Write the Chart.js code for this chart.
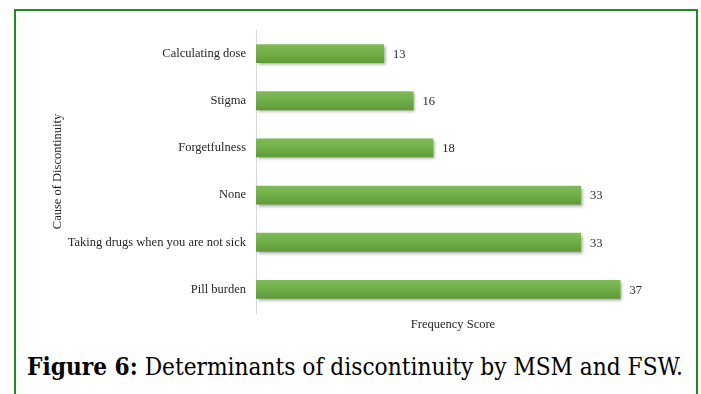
<!doctype html>
<html lang="en">

<head>
    <meta charset="utf-8">
    <title>Determinants of discontinuity</title>
    <script src="https://cdn.jsdelivr.net/npm/chart.js"></script>
    <style>
        body {
            margin: 0;
            width: 701px;
            height: 394px;
            background: #ffffff;
            overflow: hidden;
            position: relative;
        }

        .moldura {
            position: absolute;
            left: 14px;
            top: 9px;
            width: 680px;
            height: 400px;
            border: 2px solid #1e8c1e;
            border-bottom: none;
        }

        .grafico {
            position: absolute;
            left: 0;
            top: 0;
            width: 701px;
            height: 340px;
        }

        .legenda {
            position: absolute;
            left: 27px;
            top: 355px;
            white-space: nowrap;
            font-family: "DejaVu Serif", serif;
            font-size: 24px;
            line-height: 24px;
            color: #000;
            transform-origin: left top;
        }
    </style>
</head>

<body>
    <div class="moldura"></div>
    <div class="grafico">
        <canvas id="graficoCausas" width="701" height="340"></canvas>
    </div>
    <div class="legenda" id="legenda"><b>Figure 6:</b> Determinants of discontinuity by MSM and FSW.</div>

    <script>
        // causas e pontuação de frequência
        var causas = ['Calculating dose', 'Stigma', 'Forgetfulness', 'None', 'Taking drugs when you are not sick', 'Pill burden'];
        var frequencia = [13, 16, 18, 33, 33, 37];

        var fonteTexto = 'Liberation Serif';
        var tamanhoTexto = 12.5;

        // a legenda da figura ocupa a largura da moldura (até x = 683)
        var legenda = document.getElementById('legenda');
        var larguraLegenda = legenda.getBoundingClientRect().width;
        legenda.style.transform = 'scaleX(' + (656 / larguraLegenda) + ')';

        // sombra por baixo das barras
        var sombraBarras = {
            id: 'sombraBarras',
            beforeDatasetsDraw(chart) {
                const ctx = chart.ctx;
                ctx.save();
                ctx.shadowColor = 'rgba(0, 0, 0, 0.35)';
                ctx.shadowBlur = 3;
                ctx.shadowOffsetX = 1.5;
                ctx.shadowOffsetY = 2;
            },
            afterDatasetsDraw(chart) {
                chart.ctx.restore();
            }
        };

        // escreve o valor ao lado de cada barra
        var valoresBarras = {
            id: 'valoresBarras',
            afterDraw(chart) {
                const ctx = chart.ctx;
                const meta = chart.getDatasetMeta(0);
                ctx.save();
                ctx.font = tamanhoTexto + 'px "' + fonteTexto + '"';
                ctx.fillStyle = '#262626';
                ctx.textAlign = 'left';
                ctx.textBaseline = 'middle';
                meta.data.forEach(function (barra, i) {
                    ctx.fillText(frequencia[i], barra.x + 9, barra.y + 1);
                });
                ctx.restore();
            }
        };

        function corBarra(context) {
            const chart = context.chart;
            const y = chart.scales.y;
            if (!chart.chartArea || !y) {
                return '#6fae45';
            }
            const centro = y.getPixelForValue(context.dataIndex);
            const g = chart.ctx.createLinearGradient(0, centro - 10, 0, centro + 10);
            g.addColorStop(0, '#80bd5a');
            g.addColorStop(0.5, '#70ae48');
            g.addColorStop(1, '#5d9a36');
            return g;
        }

        const ctx = document.getElementById('graficoCausas');

        new Chart(ctx, {
            type: 'bar',
            data: {
                labels: causas,
                datasets: [{
                    label: 'Frequency Score',
                    data: frequencia,
                    backgroundColor: corBarra,
                    borderWidth: 0,
                    categoryPercentage: 1,
                    barPercentage: 0.4
                }]
            },
            options: {
                indexAxis: 'y',
                responsive: false,
                animation: false,
                devicePixelRatio: 1,
                layout: {
                    padding: { left: 46, top: 30, right: 51, bottom: 4 }
                },
                plugins: {
                    legend: { display: false },
                    tooltip: { enabled: false }
                },
                scales: {
                    x: {
                        min: 0,
                        max: 40,
                        grid: { display: false, drawTicks: false },
                        border: { display: false },
                        ticks: { display: false },
                        title: {
                            display: true,
                            text: 'Frequency Score',
                            color: '#262626',
                            font: { family: fonteTexto, size: tamanhoTexto }
                        },
                        afterFit(scale) {
                            scale.height = 23;
                        }
                    },
                    y: {
                        grid: { display: false, drawTicks: false },
                        border: { display: true, color: '#d9d9d9', width: 1 },
                        ticks: {
                            padding: 10,
                            color: '#262626',
                            font: { family: fonteTexto, size: tamanhoTexto }
                        },
                        title: {
                            display: true,
                            text: 'Cause of Discontinuity',
                            color: '#262626',
                            font: { family: fonteTexto, size: tamanhoTexto }
                        },
                        afterFit(scale) {
                            scale.width = 210;
                        }
                    }
                }
            },
            plugins: [sombraBarras, valoresBarras]
        });
    </script>
</body>

</html>
